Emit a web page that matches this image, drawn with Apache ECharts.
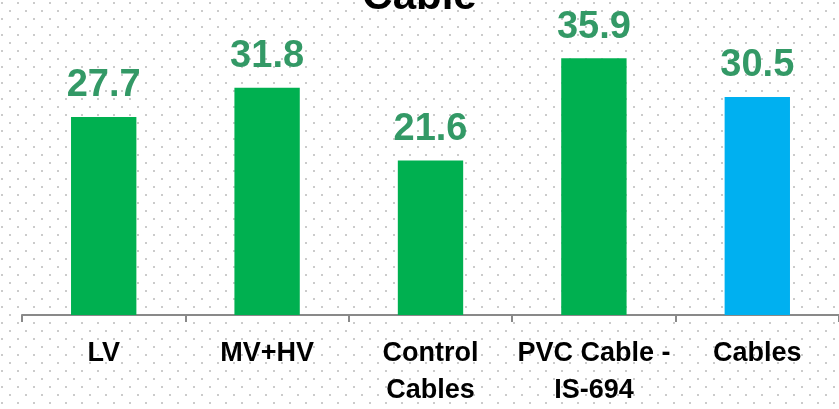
<!DOCTYPE html>
<html>
<head>
<meta charset="utf-8">
<script src="https://cdn.jsdelivr.net/npm/echarts@6/dist/echarts.min.js"></script>
<style>
  html, body { margin: 0; padding: 0; background: #fff; overflow: hidden; }
  /* 错开排列的点状背景 */
  #chart {
    width: 839px;
    height: 409px;
    background-image:
      radial-gradient(circle at 2px 3px, #cbcbcb 1.1px, transparent 1.5px),
      radial-gradient(circle at 10px 11px, #cbcbcb 1.1px, transparent 1.5px);
    background-size: 16px 16px, 16px 16px;
  }
</style>
</head>
<body>
<div id="chart"></div>
<script>
// 分类
const categories = ["LV", "MV+HV", "Control\nCables", "PVC Cable -\nIS-694", "Cables"];
// 数值
const values = [27.7, 31.8, 21.6, 35.9, 30.5];
// 柱子颜色（最后一根为蓝色）
const barColors = ["#00B050", "#00B050", "#00B050", "#00B050", "#00B0F0"];

const myEcharts = echarts.init(document.getElementById("chart"));

const option = {
  animation: false,
  // 标题只露出下半部分
  title: {
    text: "Cable",
    left: "center",
    top: -29,
    textStyle: {
      fontFamily: "Liberation Sans",
      fontWeight: "bold",
      fontSize: 42,
      lineHeight: 42,
      color: "#000"
    }
  },
  grid: {
    left: 22,
    right: -8,
    top: 29,
    height: 291,
    containLabel: false
  },
  xAxis: {
    type: "category",
    data: categories,
    axisLine: { lineStyle: { color: "#898989", width: 2 } },
    axisTick: { show: true, length: 7, lineStyle: { color: "#898989", width: 2 } },
    axisLabel: {
      interval: 0,
      margin: 20,
      fontFamily: "Liberation Sans",
      fontWeight: "bold",
      fontSize: 27,
      lineHeight: 37,
      color: "#000"
    }
  },
  yAxis: {
    type: "value",
    min: 0,
    max: 40,
    show: false
  },
  series: [
    {
      type: "bar",
      barWidth: "40%",
      data: values.map((v, i) => ({ value: v, itemStyle: { color: barColors[i] } })),
      label: {
        show: true,
        position: "top",
        distance: 12,
        fontFamily: "Liberation Sans",
        fontWeight: "bold",
        fontSize: 38,
        lineHeight: 38,
        color: "#339966"
      }
    }
  ]
};

myEcharts.setOption(option);
</script>
</body>
</html>
